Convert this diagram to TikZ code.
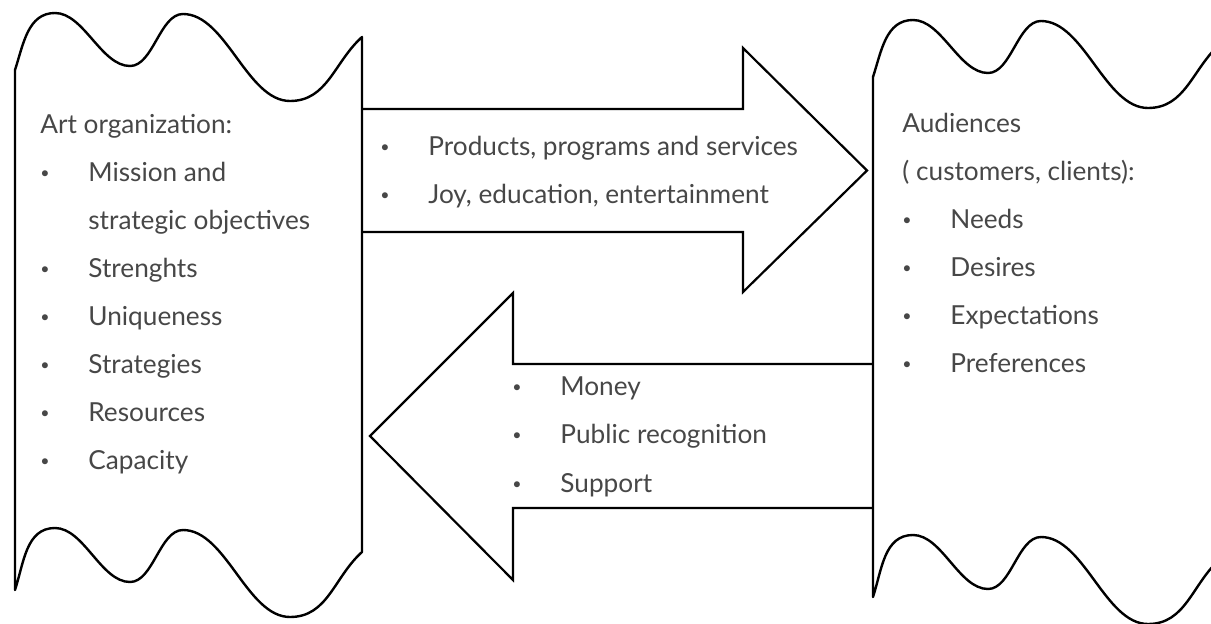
\documentclass[tikz,border=0pt]{standalone}
\usepackage{fontspec}
\setmainfont{Lato}
\usepackage{tikz}

% small bullet followed by a fixed gap
\newcommand{\itm}{\makebox[24pt][l]{\raisebox{1.4pt}{\fontsize{8}{8}\selectfont\textbullet}}}

\tikzset{
    edge/.style={line width=1.2pt, line join=round},
    flow/.style={line width=1.1pt, line join=miter},
    banner/.pic={
        \draw[edge, looseness=0.8] (15,553) to[out=72,in=180,looseness=1] (55,610) to[out=0,in=180] (130,557)
            to[out=0,in=180] (183,609) to[out=0,in=180] (290,522) to[out=0,in=222,looseness=1] (362,586)
            -- (362,71) to[out=222,in=0,looseness=1] (290,6) to[out=180,in=0] (183,93)
            to[out=180,in=0] (130,41) to[out=180,in=0] (55,95) to[out=180,in=72,looseness=1] (15,33) -- cycle;
    }
}

\begin{document}
\begin{tikzpicture}[
    x=0.5pt, y=0.5pt,
    txt/.style={anchor=base west, inner sep=0pt, text=black!72, font=\fontsize{13.1}{15}\selectfont}
]
\path[use as bounding box, fill=white] (0,0) rectangle (1211,623);
\clip (0,0) rectangle (1211,623);

% Wavy banners
\pic at (0,0) {banner};
\pic at (858,-7) {banner};

% Block arrows
\draw[flow] (362,514) -- (743,514) -- (743,575) -- (867,452.5) -- (743,331) -- (743,391) -- (362,391);
\draw[flow] (873,259) -- (513,259) -- (513,330) -- (370,187) -- (513,43) -- (513,115) -- (873,115);

% Art organization
\node[txt] (org) at (40,490) {Art organization:};
\node[txt] (org1) at (40,442) {\itm Mission and};
\node[txt] (org2) at (88,394) {strategic objectives};
\node[txt] (org3) at (40,346) {\itm Strenghts};
\node[txt] (org4) at (40,298) {\itm Uniqueness};
\node[txt] (org5) at (40,250) {\itm Strategies};
\node[txt] (org6) at (40,202) {\itm Resources};
\node[txt] (org7) at (40,154) {\itm Capacity};

% Audiences
\node[txt] (aud) at (902,491) {Audiences};
\node[txt] (aud1) at (902,443) {( customers, clients):};
\node[txt] (aud2) at (902,395) {\itm Needs};
\node[txt] (aud3) at (902,347) {\itm Desires};
\node[txt] (aud4) at (902,299) {\itm Expectations};
\node[txt] (aud5) at (902,251) {\itm Preferences};

% What goes out
\node[txt] (give1) at (380,468) {\itm Products, programs and services};
\node[txt] (give2) at (380,420) {\itm Joy, education, entertainment};

% What comes back
\node[txt] (get1) at (512,228) {\itm Money};
\node[txt] (get2) at (512,180) {\itm Public recognition};
\node[txt] (get3) at (512,131) {\itm Support};
\end{tikzpicture}
\end{document}
